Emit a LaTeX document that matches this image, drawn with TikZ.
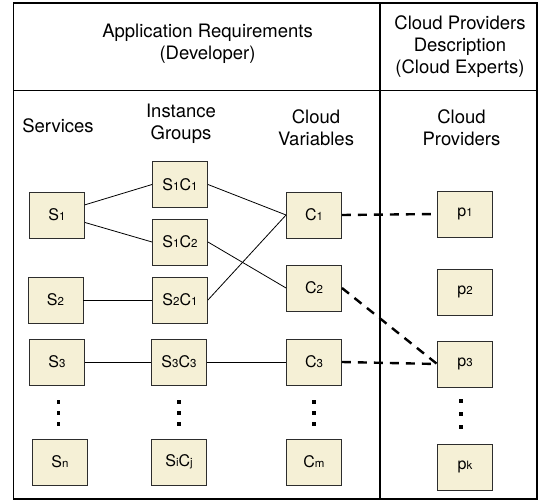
\documentclass[tikz,border=0pt]{standalone}
\usepackage{fontspec}
\setmainfont{TeX Gyre Heros}
\usepackage{tikz}

\definecolor{boxfill}{RGB}{245,240,214}
\definecolor{boxline}{RGB}{45,45,45}
\newcommand{\sm}[1]{{\fontsize{11.5}{11.5}\selectfont #1}}

\begin{document}
\begin{tikzpicture}[x=1pt,y=-1pt,
    elem/.style={draw=boxline,fill=boxfill,line width=0.9pt,minimum width=55pt,minimum height=46pt,inner sep=0pt,font=\fontsize{16}{16}\selectfont},
    head/.style={align=center,font=\fontsize{18.5}{22}\selectfont},
    link/.style={line width=0.8pt},
    map/.style={line width=2.4pt,dash pattern=on 9pt off 7pt}]
\useasboundingbox (0,0) rectangle (540,502);
\draw[line width=1.4pt] (13.5,3) rectangle (537,499);
\draw[line width=1.4pt] (13.5,90.5) -- (537,90.5);
\draw[line width=1.4pt] (380,3) -- (380,499);
\node[head] (apphead) at (207.5,44) {Application Requirements\\(Developer)};
\node[head] (provhead) at (460,46.5) {Cloud Providers\\Description\\(Cloud Experts)};
\node[head] (svclabel) at (58,125.7) {Services};
\node[head] (grplabel) at (181,124) {Instance\\Groups};
\node[head] (varlabel) at (316,128) {Cloud\\Variables};
\node[head] (prvlabel) at (461.5,128) {Cloud\\Providers};
% services
\node[elem] (s1) at (57,215) {S\sm{1}};
\node[elem] (s2) at (55.5,300) {S\sm{2}};
\node[elem] (s3) at (57,362) {S\sm{3}};
\node[elem] (sn) at (60,462) {S\sm{n}};
% instance groups
\node[elem] (s1c1) at (180,184.5) {S\sm{1}C\sm{1}};
\node[elem] (s1c2) at (180,242) {S\sm{1}C\sm{2}};
\node[elem] (s2c1) at (180,300) {S\sm{2}C\sm{1}};
\node[elem] (s3c3) at (179,362) {S\sm{3}C\sm{3}};
\node[elem] (sicj) at (179,462) {S\sm{i}C\sm{j}};
% cloud variables
\node[elem] (c1) at (314,215) {C\sm{1}};
\node[elem] (c2) at (314,288) {C\sm{2}};
\node[elem] (c3) at (314,362) {C\sm{3}};
\node[elem] (cm) at (314,462) {C\sm{m}};
% cloud providers
\node[elem] (p1) at (465,214) {p\sm{1}};
\node[elem] (p2) at (465,292) {p\sm{2}};
\node[elem] (p3) at (465,364) {p\sm{3}};
\node[elem] (pk) at (465,467) {p\sm{k}};
% dots
\foreach \x in {58.5,179,314}
  \foreach \y in {402,413,424}
    \fill (\x-1.7,\y-1.8) rectangle (\x+1.7,\y+1.8);
\foreach \y in {401,414,427}
  \fill (461-1.7,\y-1.8) rectangle (461+1.7,\y+1.8);
% links
\draw[link] (s1.20) -- (s1c1.west);
\draw[link] (s1.-15) -- (s1c2.west);
\draw[link] (s2.east) -- (s2c1.west);
\draw[link] (s3.east) -- (s3c3.west);
\draw[link] (s1c1.east) -- (c1.west);
\draw[link] (s2c1.east) -- (c1.west);
\draw[link] (s1c2.east) -- (c2.west);
\draw[link] (s3c3.east) -- (c3.west);
\draw[map] (c1.east) -- (p1.west);
\draw[map] (c2.east) -- (p3.west);
\draw[map] (c3.east) -- (p3.west);
\end{tikzpicture}
\end{document}
